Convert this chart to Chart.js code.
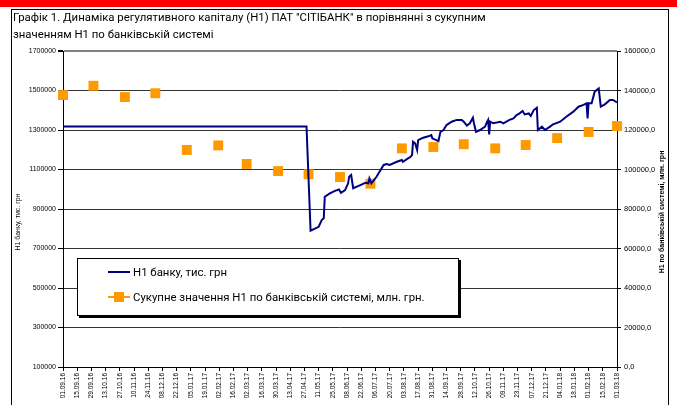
<!DOCTYPE html>
<html>
<head>
<meta charset="utf-8">
<script src="https://cdn.jsdelivr.net/npm/chart.js@4"></script>
<style>
  html, body { margin: 0; padding: 0; background: #fff; }
  body { width: 677px; height: 405px; position: relative; overflow: hidden; }
  #redBar { position: absolute; left: 0; top: 0; width: 677px; height: 7px; background: #ff0000; }
  #frame { position: absolute; left: 11px; top: 9px; width: 656px; height: 420px; border: 1px solid #000; }
  #wrap { position: absolute; left: 0; top: 0; width: 677px; height: 405px; }
  #legend {
    position: absolute; left: 77px; top: 258px; width: 380px; height: 56px;
    border: 1px solid #000; background: #fff; box-shadow: 2px 2px 0 #000;
    font-family: Roboto, sans-serif; font-size: 11.4px; color: #000;
  }
  .item { position: absolute; left: 30px; height: 14px; line-height: 14px; white-space: nowrap; }
  .sample { position: absolute; left: 0; top: 6px; width: 22px; height: 2px; }
  .mark { position: absolute; left: 6px; top: 2px; width: 10px; height: 10px; background: #ff9900; }
  .txt { position: absolute; left: 25px; top: 0; }
</style>
</head>
<body>
<div id="redBar"></div>
<div id="frame"></div>
<div id="wrap"><canvas id="chart" width="677" height="405"></canvas></div>
<div id="legend">
  <div class="item" style="top:6px"><span class="sample" style="background:#000080"></span><span class="txt" id="lg1"></span></div>
  <div class="item" style="top:31px"><span class="sample" style="background:#ff9900"></span><span class="mark"></span><span class="txt" id="lg2"></span></div>
</div>
<script>
// підписи осі X (кожні 14 днів)
const tickLabels = ['01.09.16','15.09.16','29.09.16','13.10.16','27.10.16','10.11.16','24.11.16','08.12.16','22.12.16',
  '05.01.17','19.01.17','02.02.17','16.02.17','02.03.17','16.03.17','30.03.17','13.04.17','27.04.17','11.05.17',
  '25.05.17','08.06.17','22.06.17','06.07.17','20.07.17','03.08.17','17.08.17','31.08.17','14.09.17','28.09.17',
  '12.10.17','26.10.17','09.11.17','23.11.17','07.12.17','21.12.17','04.01.18','18.01.18','01.02.18','15.02.18','01.03.18'];

const titleLines = ['Графік 1. Динаміка регулятивного капіталу (Н1) ПАТ "СІТІБАНК" в порівнянні з сукупним',
  'значенням Н1 по банківській системі'];
const bankLabel = 'Н1 банку, тис. грн';
const systemLabel = 'Сукупне значення Н1 по банківській системі, млн. грн.';
const leftAxisTitle = 'Н1 банку, тис. грн';
const rightAxisTitle = 'Н1 по банківській системі, млн. грн';

// Н1 банку: дні від 01.09.16 та значення, тис. грн
const bankDay = [0,240,244,252,255,257,258,263,268,272,274,278,281,282,284,286,293,298,301,302,304,309,316,319,322,
  329,334,335,340,342,344,345,347,349,350,355,360,363,364,370,372,375,378,383,388,393,395,398,401,404,405,407,
  411,416,418,419,420,421,424,431,434,440,444,447,450,453,455,459,461,464,467,468,472,475,480,483,490,496,503,
  508,513,516,517,518,521,524,528,530,534,539,542,546];
const bankValue = [1318000,1318000,790000,810000,844000,853000,962000,979000,992000,999000,982000,996000,1030000,
  1063000,1072000,1005000,1021000,1033000,1030000,1055000,1030000,1063000,1123000,1128000,1123000,
  1139000,1148000,1139000,1156000,1162000,1173000,1241000,1233000,1199000,1249000,1261000,1268000,1274000,
  1258000,1244000,1291000,1300000,1325000,1342000,1351000,1351000,1342000,1322000,1334000,1362000,1334000,
  1291000,1300000,1317000,1342000,1351000,1278000,1342000,1334000,1342000,1334000,1351000,1359000,1376000,
  1384000,1396000,1379000,1384000,1371000,1401000,1413000,1300000,1317000,1300000,1317000,1329000,1342000,
  1367000,1393000,1418000,1427000,1435000,1359000,1435000,1435000,1494000,1511000,1418000,1430000,1452000,
  1452000,1440000];

// Сукупне значення Н1 по системі: дні від 01.09.16 (перше число місяця), млн. грн
const systemDay = [0,30,61,91,122,153,181,212,242,273,303,334,365,395,426,456,487,518,546];
const systemValue = [137700,142400,136700,138600,109900,112200,102800,99200,97600,96200,92800,
  110700,111400,112800,110700,112400,115900,119000,122000];

document.getElementById('lg1').textContent = bankLabel;
document.getElementById('lg2').textContent = systemLabel;

Chart.defaults.font.family = "'Liberation Sans', Arial, sans-serif";
Chart.defaults.color = '#000';

// підписи осей читаються знизу вгору
const axisTitles = {
  id: 'axisTitles',
  afterDraw(chart) {
    const c = chart.ctx, a = chart.chartArea;
    c.save();
    c.fillStyle = '#000';
    c.textAlign = 'center';
    c.textBaseline = 'middle';
    c.font = "7px 'Liberation Sans', Arial";
    c.translate(18, 222);
    c.rotate(-Math.PI / 2);
    c.fillText(leftAxisTitle, 0, 0);
    c.restore();
    c.save();
    c.fillStyle = '#000';
    c.textAlign = 'center';
    c.textBaseline = 'middle';
    c.font = "bold 7px 'Liberation Sans', Arial";
    c.translate(662, (a.top + a.bottom) / 2 + 3);
    c.rotate(-Math.PI / 2);
    c.fillText(rightAxisTitle, 0, 0);
    c.restore();
  }
};

const chart = new Chart(document.getElementById('chart'), {
  type: 'line',
  data: {
    datasets: [
      {
        label: bankLabel,
        data: bankDay.map((d, i) => ({x: d, y: bankValue[i]})),
        borderColor: '#000080',
        borderWidth: 2,
        pointRadius: 0,
        tension: 0,
        yAxisID: 'y'
      },
      {
        label: systemLabel,
        data: systemDay.map((d, i) => ({x: d, y: systemValue[i]})),
        showLine: false,
        clip: false,
        pointStyle: 'rect',
        pointRadius: 7,
        backgroundColor: '#ff9900',
        borderColor: '#ff9900',
        borderWidth: 0,
        yAxisID: 'y1'
      }
    ]
  },
  plugins: [axisTitles],
  options: {
    responsive: false,
    animation: false,
    layout: { padding: { left: 13, right: 0, top: 0, bottom: 0 } },
    plugins: {
      legend: { display: false },
      tooltip: { enabled: false },
      title: {
        display: true,
        text: titleLines,
        align: 'start',
        color: '#000',
        font: { family: 'Roboto, sans-serif', size: 11.4, weight: 'normal', lineHeight: 17 / 11.4 },
        padding: { top: 10, bottom: 7 }
      }
    },
    scales: {
      x: {
        type: 'linear',
        min: 0,
        max: 546,
        afterFit: (s) => { s.height = 38; },
        ticks: {
          stepSize: 14,
          maxTicksLimit: 100,
          autoSkip: false,
          maxRotation: 90,
          minRotation: 90,
          padding: 2,
          font: { size: 6.5 },
          callback: (v) => tickLabels[Math.round(v / 14)]
        },
        grid: { drawOnChartArea: false, tickLength: 4, color: '#000' },
        border: { color: '#000', width: 1 }
      },
      y: {
        position: 'left',
        min: 100000,
        max: 1700000,
        afterFit: (s) => { s.width = 50; },
        ticks: { stepSize: 200000, padding: 2, font: { size: 7 }, callback: (v) => String(v) },
        grid: {
          color: (c) => (c.tick && c.tick.value === 1700000) ? '#808080' : '#333',
          lineWidth: (c) => (c.tick && c.tick.value === 1700000) ? 2 : 1,
          tickColor: '#000',
          tickLength: 5
        },
        border: { color: '#000', width: 1 }
      },
      y1: {
        position: 'right',
        min: 0,
        max: 160000,
        afterFit: (s) => { s.width = 60; },
        ticks: { stepSize: 20000, padding: 3, font: { size: 7.5 }, callback: (v) => v.toFixed(1).replace('.', ',') },
        grid: { drawOnChartArea: false, tickLength: 4, color: '#000' },
        border: { color: '#000', width: 1 }
      }
    }
  }
});
</script>
</body>
</html>
